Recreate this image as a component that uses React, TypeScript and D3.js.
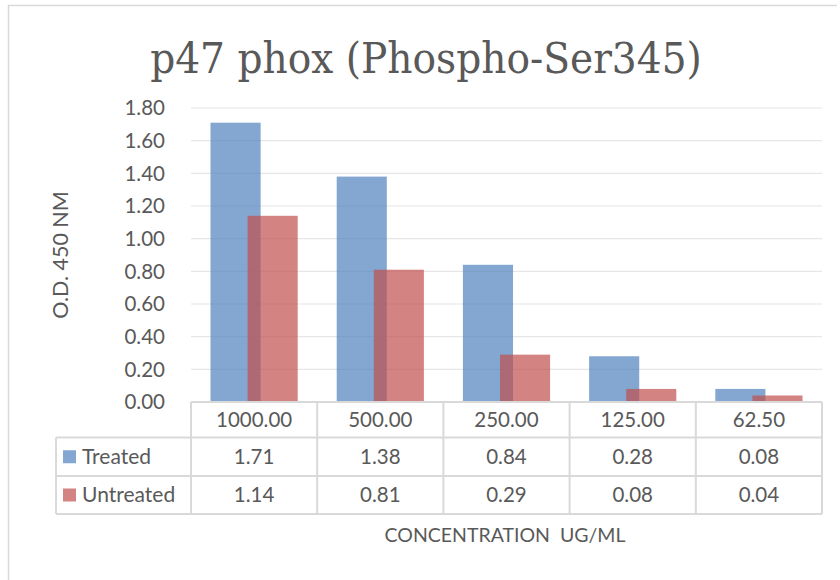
import React from "react";
import * as d3 from "d3";

const categories = ["1000.00", "500.00", "250.00", "125.00", "62.50"];
const treated = [1.71, 1.38, 0.84, 0.28, 0.08];
const untreated = [1.14, 0.81, 0.29, 0.08, 0.04];
const seriesNames = ["Treated", "Untreated"];
const yTicks = [0, 0.2, 0.4, 0.6, 0.8, 1.0, 1.2, 1.4, 1.6, 1.8];

const W = 840;
const H = 580;
const plotLeft = 191;
const plotRight = 822;
const plotTop = 108;
const plotBottom = 402;
const tableLeft = 56;
const rowLines = [402, 437.5, 476, 514];

const blue = "rgb(79,129,189)";
const red = "rgb(192,80,77)";
const textColor = "#595959";
const gridColor = "#E6E6E6";
const tableColor = "#D9D9D9";
const sans = "Lato, 'Open Sans', sans-serif";

export default function App() {
  const x = d3.scaleBand<string>().domain(categories).range([plotLeft, plotRight]).padding(0);
  const y = d3.scaleLinear().domain([0, 1.8]).range([plotBottom, plotTop]);
  const bw = x.bandwidth();
  const barW = bw * 0.397;
  const step = barW * 0.74;
  const series = [treated, untreated];
  const colors = [blue, red];

  return (
    <div style={{ position: "absolute", left: 0, top: 0 }}>
      <svg width={W} height={H} style={{ display: "block", background: "#fff" }}>
        {/* chart border */}
        <line x1={8} x2={837} y1={5.5} y2={5.5} stroke={tableColor} strokeWidth={1.5} />
        <line x1={8.5} x2={8.5} y1={5} y2={H} stroke={tableColor} strokeWidth={1.5} />

        <text
          x={426}
          y={73}
          textAnchor="middle"
          fontFamily="'DejaVu Serif Condensed', 'DejaVu Serif', serif"
          fontStretch="condensed"
          fontSize={43.5}
          fill={textColor}
        >
          p47 phox (Phospho-Ser345)
        </text>

        {/* gridlines */}
        {yTicks.slice(1).map((t) => (
          <line key={t} x1={plotLeft} x2={plotRight} y1={y(t)} y2={y(t)} stroke={gridColor} strokeWidth={1.2} />
        ))}

        {/* y tick labels */}
        {yTicks.map((t) => (
          <text
            key={"l" + t}
            x={165}
            y={y(t)}
            dy="0.35em"
            textAnchor="end"
            fontFamily={sans}
            fontSize={20.5}
            fill={textColor}
          >
            {t.toFixed(2)}
          </text>
        ))}

        <text
          transform={`translate(60,255) rotate(-90)`}
          textAnchor="middle"
          dy="0.35em"
          fontFamily={sans}
          fontSize={21.5}
          fill={textColor}
        >
          O.D. 450 NM
        </text>

        {/* bars */}
        {series.map((vals, si) =>
          vals.map((v, i) => {
            const c = (x(categories[i]) as number) + bw / 2;
            const start = c - (barW + step) / 2 + si * step;
            return (
              <rect
                key={si + "-" + i}
                x={start}
                y={y(v)}
                width={barW}
                height={y(0) - y(v)}
                fill={colors[si]}
                fillOpacity={0.7}
              />
            );
          })
        )}

        {/* data table */}
        <line x1={plotLeft} x2={plotRight} y1={rowLines[0]} y2={rowLines[0]} stroke={tableColor} strokeWidth={2} />
        {rowLines.slice(1).map((ry) => (
          <line key={ry} x1={tableLeft} x2={plotRight} y1={ry} y2={ry} stroke={tableColor} strokeWidth={2} />
        ))}
        <line x1={tableLeft} x2={tableLeft} y1={rowLines[1]} y2={rowLines[3]} stroke={tableColor} strokeWidth={2} />
        {categories.map((cat) => (
          <line
            key={"v" + cat}
            x1={x(cat) as number}
            x2={x(cat) as number}
            y1={rowLines[0]}
            y2={rowLines[3]}
            stroke={tableColor}
            strokeWidth={2}
          />
        ))}
        <line x1={plotRight} x2={plotRight} y1={rowLines[0]} y2={rowLines[3]} stroke={tableColor} strokeWidth={2} />

        {categories.map((cat) => (
          <text
            key={"c" + cat}
            x={(x(cat) as number) + bw / 2}
            y={(rowLines[0] + rowLines[1]) / 2}
            dy="0.35em"
            textAnchor="middle"
            fontFamily={sans}
            fontSize={20.5}
            fill={textColor}
          >
            {cat}
          </text>
        ))}

        {series.map((vals, si) => {
          const cy = (rowLines[si + 1] + rowLines[si + 2]) / 2;
          return (
            <g key={"row" + si}>
              <rect x={63} y={cy - 6.5} width={13} height={13} fill={colors[si]} fillOpacity={0.7} />
              <text x={82} y={cy} dy="0.35em" fontFamily={sans} fontSize={21} fill={textColor}>
                {seriesNames[si]}
              </text>
              {vals.map((v, i) => (
                <text
                  key={i}
                  x={(x(categories[i]) as number) + bw / 2}
                  y={cy}
                  dy="0.35em"
                  textAnchor="middle"
                  fontFamily={sans}
                  fontSize={20.5}
                  fill={textColor}
                >
                  {v.toFixed(2)}
                </text>
              ))}
            </g>
          );
        })}

        <text
          x={505}
          y={535}
          dy="0.35em"
          textAnchor="middle"
          fontFamily={sans}
          fontSize={19.5}
          fill={textColor}
          style={{ whiteSpace: "pre" }}
        >
          {"CONCENTRATION  UG/ML"}
        </text>
      </svg>
    </div>
  );
}
